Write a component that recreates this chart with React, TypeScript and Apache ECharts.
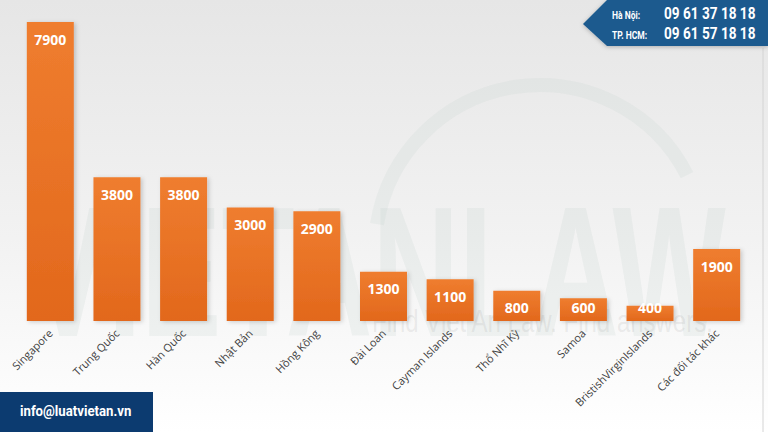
import React, { useEffect, useRef } from "react";
import * as echarts from "echarts";

const categories = [
  "Singapore",
  "Trung Quốc",
  "Hàn Quốc",
  "Nhật Bản",
  "Hồng Kông",
  "Đài Loan",
  "Cayman Islands",
  "Thổ Nhĩ Kỳ",
  "Samoa",
  "BristishVirginIslands",
  "Các đối tác khác",
];
const values = [7900, 3800, 3800, 3000, 2900, 1300, 1100, 800, 600, 400, 1900];
const phoneHN = "09 61 37 18 18";
const phoneHCM = "09 61 57 18 18";
const email = "info@luatvietan.vn";

export default function App() {
  const ref = useRef<HTMLDivElement>(null);
  useEffect(() => {
    if (!ref.current) return;
    const chart = echarts.init(ref.current, null, { renderer: "svg" });
    const data = values.map((v) => {
      const small = v <= 600;
      return {
        value: v,
        label: small
          ? { position: "insideBottom", distance: 7 }
          : { position: "insideTop", distance: 10 },
      };
    });
    const phoneText = (txt: string, y: number) => ({
      type: "text",
      z: 101,
      x: 664,
      y,
      scaleX: 0.8,
      style: {
        text: txt,
        font: "bold 17px Roboto, sans-serif",
        fill: "#ffffff",
        verticalAlign: "middle",
      },
    });
    const cityText = (txt: string, y: number) => ({
      type: "text",
      z: 101,
      x: 612,
      y,
      scaleX: 0.85,
      style: {
        text: txt,
        font: "bold 10px Roboto, sans-serif",
        fill: "#ffffff",
        verticalAlign: "middle",
      },
    });
    chart.setOption({
      animation: false,
      backgroundColor: {
        type: "linear",
        x: 0,
        y: 0,
        x2: 0,
        y2: 1,
        colorStops: [
          { offset: 0, color: "#e6e6e6" },
          { offset: 0.55, color: "#f2f2f2" },
          { offset: 1, color: "#ffffff" },
        ],
      },
      grid: { left: 17, right: 18, top: 22, bottom: 111, containLabel: false },
      xAxis: {
        type: "category",
        data: categories,
        axisLine: { show: false },
        axisTick: { show: false },
        axisLabel: {
          rotate: 45,
          interval: 0,
          margin: 10,
          color: "#404040",
          fontSize: 11,
          fontFamily: "Open Sans, Lato, sans-serif",
        },
      },
      yAxis: { type: "value", min: 0, max: 7900, show: false, splitLine: { show: false } },
      graphic: [
        {
          type: "arc",
          z: 0,
          silent: true,
          shape: { cx: 540, cy: 250, r: 165, startAngle: Math.PI * 1.05, endAngle: Math.PI * 1.85 },
          style: { stroke: "rgba(165,190,178,0.11)", lineWidth: 14, fill: "none" },
        },
        {
          type: "text",
          z: 0,
          silent: true,
          x: 28,
          y: 178,
          scaleY: 1.55,
          style: {
            text: "VIETANLAW",
            font: "bold 120px Liberation Sans, Arial, sans-serif",
            fill: "rgba(150,175,165,0.10)",
          },
        },
        {
          type: "text",
          z: 0,
          silent: true,
          x: 372,
          y: 305,
          scaleX: 0.75,
          style: {
            text: "Find Viet An Law. Find answers.",
            font: "32px Liberation Sans, sans-serif",
            fill: "rgba(140,140,140,0.14)",
          },
        },
        {
          type: "line",
          z: 0,
          silent: true,
          shape: { x1: 763, y1: 48, x2: 763, y2: 432 },
          style: { stroke: "#d4d4d4", lineWidth: 1 },
        },
        {
          type: "polygon",
          z: 100,
          shape: { points: [[583, 24], [607, 0], [768, 0], [768, 46], [607, 46]] },
          style: { fill: "#1d5a8e", shadowColor: "rgba(0,0,0,0.25)", shadowBlur: 4, shadowOffsetY: 1 },
        },
        cityText("Hà Nội:", 15),
        cityText("TP. HCM:", 35),
        phoneText(phoneHN, 13),
        phoneText(phoneHCM, 33),
        {
          type: "rect",
          z: 100,
          shape: { x: 0, y: 392, width: 153, height: 40 },
          style: { fill: "#0c3b70" },
        },
        {
          type: "text",
          z: 101,
          x: 20,
          y: 411,
          scaleX: 0.88,
          style: {
            text: email,
            font: "bold 15px Roboto, sans-serif",
            fill: "#ffffff",
            verticalAlign: "middle",
          },
        },
      ],
      series: [
        {
          type: "bar",
          data,
          barWidth: 47,
          z: 5,
          itemStyle: {
            color: {
              type: "linear",
              x: 0,
              y: 0,
              x2: 0,
              y2: 1,
              colorStops: [
                { offset: 0, color: "#ef7d2f" },
                { offset: 1, color: "#e2681c" },
              ],
            },
            shadowColor: "rgba(0,0,0,0.18)",
            shadowBlur: 4,
            shadowOffsetX: 2,
            shadowOffsetY: 1,
          },
          label: {
            show: true,
            color: "#ffffff",
            fontSize: 14,
            fontWeight: "bold",
            fontFamily: "Open Sans, Lato, sans-serif",
          },
        },
      ],
    });
    return () => chart.dispose();
  }, []);
  return (
    <div
      ref={ref}
      style={{ position: "fixed", left: 0, top: 0, width: 768, height: 432 }}
    />
  );
}
